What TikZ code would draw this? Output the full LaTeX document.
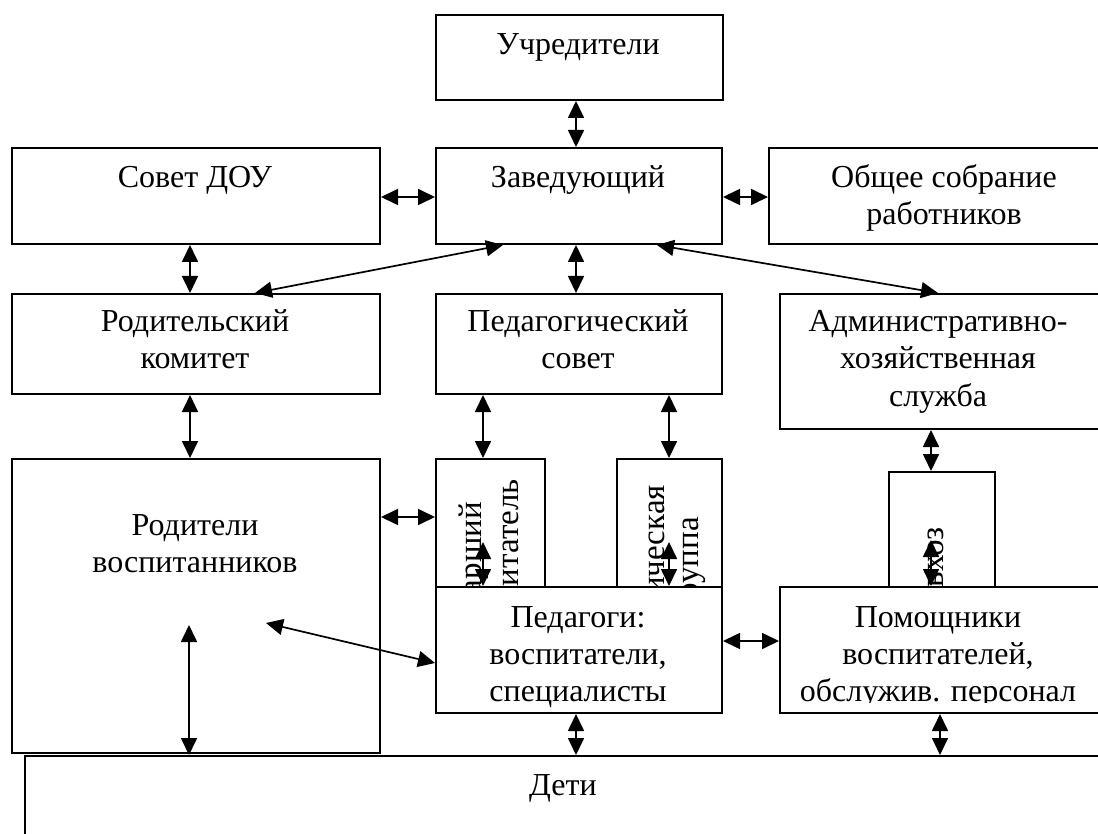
\documentclass[tikz,border=0pt]{standalone}
\usepackage{fontspec}
\setmainfont{Liberation Serif}
\usetikzlibrary{arrows.meta,calc}
\begin{document}
\begin{tikzpicture}[x=1pt,y=-1pt,
  box/.style={draw, line width=2pt, fill=white, inner sep=0pt, anchor=north west},
  lbl/.style={font=\fontsize{32pt}{37pt}\selectfont, align=center, anchor=base, inner sep=0pt},
  vlbl/.style={font=\fontsize{33pt}{37pt}\selectfont, rotate=90, anchor=east, inner sep=0pt},
  arr/.style={line width=1.7pt, {Triangle[length=17pt,width=16pt]}-{Triangle[length=17pt,width=16pt]}},
]
\useasboundingbox (0,0) rectangle (1098,834);
\clip (0,0) rectangle (1098,834);

% helper coordinates
\coordinate (c190) at (190,0);
\coordinate (c576) at (576,0);
\coordinate (c483) at (483,0);
\coordinate (c669) at (669,0);
\coordinate (c931) at (931,0);
\coordinate (c940) at (940,0);
\coordinate (r197) at (0,197);
\coordinate (r517) at (0,517);
\coordinate (r641) at (0,641);
\coordinate (r663) at (0,663);

% top rows
\node[box, minimum width=287pt, minimum height=85pt] (uch) at (435,14) {};
\node[lbl] (uchT) at (578,55) {Учредители};

\node[box, minimum width=368pt, minimum height=96pt] (sovet) at (11,147) {};
\node[lbl] (sovetT) at (195,188) {Совет ДОУ};
\node[box, minimum width=286pt, minimum height=96pt] (zav) at (435,147) {};
\node[lbl] (zavT) at (578,188) {Заведующий};
\node[box, minimum width=352pt, minimum height=96pt] (obsh) at (768,147) {};
\node[lbl] (obshT) at (944,225) {Общее собрание\\работников};

\node[box, minimum width=368pt, minimum height=100pt] (rodkom) at (11,293) {};
\node[lbl] (rodkomT) at (195,369) {Родительский\\комитет};
\node[box, minimum width=286pt, minimum height=100pt] (ped) at (435,293) {};
\node[lbl] (pedT) at (578,369) {Педагогический\\совет};
\node[box, minimum width=330pt, minimum height=135pt] (adm) at (779,293) {};
\node[lbl] (admT) at (938,406) {Административно-\\хозяйственная\\служба};

% vertical text boxes
\node[box, minimum width=109pt, minimum height=160pt] (star) at (435,458) {};
\node[vlbl] (starA) at (474,502) {Старший};
\node[vlbl] (starB) at (511,479) {воспитатель};
\node[box, minimum width=105pt, minimum height=160pt] (metod) at (616,458) {};
\node[vlbl] (metA) at (657,485) {Методическая};
\node[vlbl] (metB) at (694,517) {группа};
\node[box, minimum width=106pt, minimum height=150pt] (zavhoz) at (888,471) {};
\node[vlbl] (zhA) at (933,527) {Завхоз};

% lower boxes
\node[box, minimum width=286pt, minimum height=126pt] (pedag) at (435,586) {};
\node[lbl] (pedagT) at (578,701) {Педагоги:\\воспитатели,\\специалисты};
\node[box, minimum width=330pt, minimum height=126pt] (pom) at (779,586) {};
\begin{scope}
\clip (779,586) rectangle (1098,702);
\node[lbl] (pomT) at (938,701) {Помощники\\воспитателей,\\обслужив. персонал};
\end{scope}

\node[box, minimum width=368pt, minimum height=294pt] (rod) at (11,458) {};
\node[lbl] (rodT) at (195,572) {Родители\\воспитанников};

\node[box, minimum width=1100pt, minimum height=120pt] (deti) at (24,755) {};
\node[lbl] (detiT) at (563,795) {Дети};

% inner coordinates
\coordinate (sIn) at (483,542);
\coordinate (mIn) at (669,542);
\coordinate (zIn) at (931,540);
\coordinate (rA) at (266,623);
\coordinate (rB) at (189,625);

% connectors
\draw[arr] (uch.south -| c576) -- (zav.north -| c576);
\draw[arr] (sovet.east |- r197) -- (zav.west |- r197);
\draw[arr] (zav.east |- r197) -- (obsh.west |- r197);
\draw[arr] (sovet.south -| c190) -- (rodkom.north -| c190);
\draw[arr] (zav.south -| c576) -- (ped.north -| c576);
\draw[arr] ($(zav.south west)+(68,0)$) -- ($(rodkom.north west)+(244,0)$);
\draw[arr] ($(zav.south west)+(222,0)$) -- ($(adm.north west)+(159,0)$);
\draw[arr] (rodkom.south -| c190) -- (rod.north -| c190);
\draw[arr] (ped.south -| c483) -- (star.north -| c483);
\draw[arr] (ped.south -| c669) -- (metod.north -| c669);
\draw[arr] (adm.south -| c931) -- (zavhoz.north -| c931);
\draw[arr] (rod.east |- r517) -- (star.west |- r517);
\draw[arr] (sIn) -- (pedag.north -| sIn);
\draw[arr] (mIn) -- (pedag.north -| mIn);
\draw[arr] (zIn) -- (pom.north -| zIn);
\draw[arr] (rA) -- (pedag.west |- r663);
\draw[arr] (rB) -- (deti.north -| rB);
\draw[arr] (pedag.east |- r641) -- (pom.west |- r641);
\draw[arr] (pedag.south -| c576) -- (deti.north -| c576);
\draw[arr] (pom.south -| c940) -- (deti.north -| c940);
\end{tikzpicture}
\end{document}
